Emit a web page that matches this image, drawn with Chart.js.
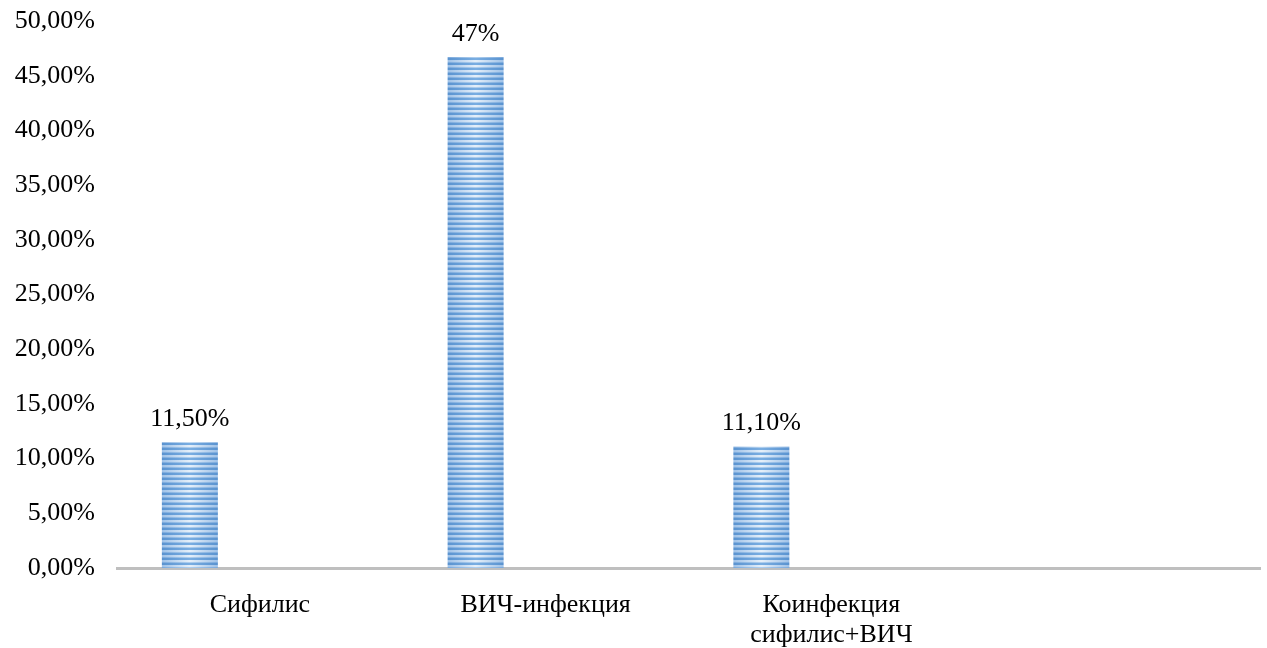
<!DOCTYPE html>
<html>
<head>
<meta charset="utf-8">
<script src="https://cdn.jsdelivr.net/npm/chart.js@4"></script>
<style>
  html, body { margin: 0; padding: 0; background: #fff; }
  #wrap { width: 1267px; height: 648px; }
</style>
</head>
<body>
<div id="wrap"><canvas id="chart"></canvas></div>
<script>
const categories = ['Сифилис', 'ВИЧ-инфекция', ['Коинфекция', 'сифилис+ВИЧ'], ''];
const shares = [11.5, 46.7, 11.1, null];
const shareLabels = ['11,50%', '47%', '11,10%', ''];
const emptySeries = [null, null, null, null];

const serif = '"Liberation Serif", "Times New Roman", serif';
const catPct = 0.98;
const barPct = 0.4;

// striped fill with a light centre, aligned to each bar
function barFill(c) {
  const xs = c.chart.scales.x;
  if (!xs || !xs.width) return '#6aa2da';
  const cw = xs.width / categories.length;
  const slot = cw * catPct / 2;
  const w = Math.max(1, Math.round(slot * barPct));
  const left = xs.getPixelForValue(c.dataIndex) - slot / 2 - w / 2;
  const cv = document.createElement('canvas');
  cv.width = w;
  cv.height = 5;
  const g = cv.getContext('2d');
  const light = g.createLinearGradient(0, 0, w, 0);
  light.addColorStop(0, '#9fc2e8');
  light.addColorStop(0.5, '#e6f0fa');
  light.addColorStop(1, '#9fc2e8');
  const dark = g.createLinearGradient(0, 0, w, 0);
  dark.addColorStop(0, '#5a93d0');
  dark.addColorStop(0.5, '#7aaee2');
  dark.addColorStop(1, '#5a93d0');
  g.fillStyle = light;
  g.fillRect(0, 0, w, 5);
  g.fillStyle = dark;
  g.fillRect(0, 2.5, w, 2.5);
  const p = g.createPattern(cv, 'repeat');
  p.setTransform(new DOMMatrix().translate(left, 0));
  return p;
}

const valueLabels = {
  id: 'valueLabels',
  afterDatasetsDraw(chart) {
    const ctx = chart.ctx;
    const meta = chart.getDatasetMeta(0);
    ctx.save();
    ctx.font = `26px ${serif}`;
    ctx.fillStyle = '#000';
    ctx.textAlign = 'center';
    ctx.textBaseline = 'bottom';
    meta.data.forEach((bar, i) => {
      if (!shareLabels[i]) return;
      ctx.fillText(shareLabels[i], bar.x, bar.y - 10);
    });
    ctx.restore();
  },
};

new Chart(document.getElementById('chart'), {
  type: 'bar',
  data: {
    labels: categories,
    datasets: [
      { data: shares, backgroundColor: barFill, borderWidth: 0 },
      { data: emptySeries, backgroundColor: '#ffffff' },
    ],
  },
  options: {
    responsive: true,
    maintainAspectRatio: false,
    animation: false,
    categoryPercentage: catPct,
    barPercentage: barPct,
    layout: { padding: { top: 21, right: 7, bottom: 0, left: 0 } },
    plugins: { legend: { display: false }, tooltip: { enabled: false } },
    scales: {
      x: {
        grid: { display: false, drawTicks: false },
        border: { display: true, color: '#bfbfbf', width: 3 },
        ticks: { color: '#000', font: { family: serif, size: 26, lineHeight: 1.15 }, padding: 22, maxRotation: 0, autoSkip: false },
        afterFit: (s) => { s.height = 80; },
      },
      y: {
        min: 0,
        max: 50,
        grid: { display: false, drawTicks: false },
        border: { display: false },
        ticks: {
          stepSize: 5,
          color: '#000',
          font: { family: serif, size: 26 },
          padding: 22,
          callback: (v) => `${Number(v).toFixed(2).replace('.', ',')}%`,
        },
        afterFit: (s) => { s.width = 117; s.paddingTop = 0; s.paddingBottom = 0; },
      },
    },
  },
  plugins: [valueLabels],
});
</script>
</body>
</html>
